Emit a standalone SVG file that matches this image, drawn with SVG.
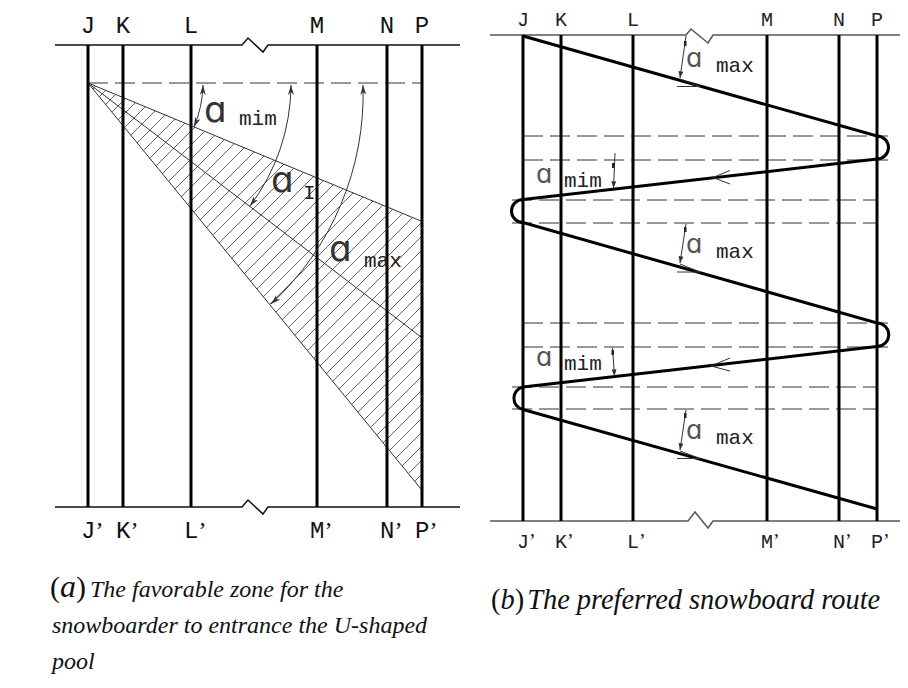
<svg xmlns="http://www.w3.org/2000/svg" width="908" height="688" viewBox="0 0 908 688">
<style>
.bg{fill:#fff}
.edge{fill:none;stroke:#111;stroke-width:1.5}
.edgeb{fill:none;stroke:#555;stroke-width:1.5}
.rail{stroke:#000;stroke-width:3}
.dash{stroke:#333;stroke-width:1;stroke-dasharray:20 7;fill:none}
.thin{stroke:#333;stroke-width:1;fill:none}
.route{stroke:#000;stroke-width:3;fill:none}
.lblA{font-family:"Liberation Mono",monospace;font-size:24px;fill:#111}
.lblB{font-family:"Liberation Mono",monospace;font-size:20px;fill:#222}
.pr{font-family:"Liberation Serif",serif}
.sub{font-family:"Liberation Mono",monospace;font-size:21px;fill:#222}
.alA{font-family:"DejaVu Sans",sans-serif;font-size:36px;fill:#333}
.alB{font-family:"DejaVu Sans",sans-serif;font-size:26px;fill:#555}
.cap{font-family:"Liberation Serif",serif;font-size:24px;font-style:italic;fill:#111}
.capb{font-family:"Liberation Serif",serif;font-size:28.4px;font-style:italic;fill:#111}
.up{font-style:normal}
</style>
<defs>
<pattern id="hatch" patternUnits="userSpaceOnUse" width="14" height="14">
<path d="M-1,15 L15,-1 M-1,1 L1,-1 M13,15 L15,13" stroke="#555" stroke-width="0.9"/>
</pattern>
<marker id="arr" viewBox="0 0 10 6" refX="10" refY="3" markerWidth="10" markerHeight="6" markerUnits="userSpaceOnUse" orient="auto-start-reverse">
<path d="M0,0 L10,3 L0,6 L3,3 Z" fill="#333"/>
</marker>
<marker id="tip" viewBox="0 0 8 6" refX="8" refY="3" markerWidth="7" markerHeight="5" markerUnits="userSpaceOnUse" orient="auto">
<path d="M0,0 L8,3 L0,6 Z" fill="#333"/>
</marker>
</defs>
<rect class="bg" width="908" height="688"/>

<!-- Panel (a) -->
<g id="panel-a">
<g id="a-zone">
<polygon points="88,83 421,221 421,489" fill="url(#hatch)"/>
<path class="thin" d="M88,83 L421,221 M88,83 L421,337 M88,83 L421,489"/>
</g>
<g id="a-frame">
<path class="edge" d="M55,45 H242 L248,38 L263,52 L268,45 H460"/>
<path class="edge" d="M55,507 H242 L248,500 L263,514 L268,507 H460"/>
<path class="dash" d="M88,83 H422"/>
<g id="a-rails">
<line class="rail" x1="88" y1="45" x2="88" y2="507"/>
<line class="rail" x1="123" y1="45" x2="123" y2="507"/>
<line class="rail" x1="191" y1="45" x2="191" y2="507"/>
<line class="rail" x1="317" y1="45" x2="317" y2="507"/>
<line class="rail" x1="387" y1="45" x2="387" y2="507"/>
<line class="rail" x1="422" y1="45" x2="422" y2="507"/>
</g>
</g>
<g id="a-labels">
<text class="lblA" text-anchor="middle" x="88" y="33">J</text>
<text class="lblA" text-anchor="middle" x="123" y="33">K</text>
<text class="lblA" text-anchor="middle" x="191" y="33">L</text>
<text class="lblA" text-anchor="middle" x="317" y="33">M</text>
<text class="lblA" text-anchor="middle" x="387" y="33">N</text>
<text class="lblA" text-anchor="middle" x="422" y="33">P</text>
<text class="lblA" x="81" y="538">J<tspan class="pr">’</tspan></text>
<text class="lblA" x="116" y="538">K<tspan class="pr">’</tspan></text>
<text class="lblA" x="184" y="538">L<tspan class="pr">’</tspan></text>
<text class="lblA" x="310" y="538">M<tspan class="pr">’</tspan></text>
<text class="lblA" x="380" y="538">N<tspan class="pr">’</tspan></text>
<text class="lblA" x="415" y="538">P<tspan class="pr">’</tspan></text>
</g>
<g id="a-angles">
<path class="thin" d="M203,85 A115,115 0 0 1 194,127" marker-start="url(#arr)" marker-end="url(#arr)"/>
<path class="thin" d="M291,85 A203,203 0 0 1 250,206" marker-start="url(#arr)" marker-end="url(#arr)"/>
<path class="thin" d="M363,85 A285,285 0 0 1 271,304" marker-start="url(#arr)" marker-end="url(#arr)"/>
<text class="alA" x="204" y="122">ɑ</text>
<text class="sub" x="239" y="125">mim</text>
<text class="alA" x="271" y="192">ɑ</text>
<text class="sub" x="303" y="199">I</text>
<text class="alA" x="329" y="261">ɑ</text>
<text class="sub" x="364" y="267">max</text>
</g>
</g>

<!-- Panel (b) -->
<g id="panel-b">
<g id="b-frame">
<path class="edgeb" d="M490,35 H686 L691,29 L708,43 L713,35 H900"/>
<path class="edgeb" d="M490,521 H688 L695,512 L708,528 L713,521 H900"/>
<path class="dash" d="M523,136 H888 M523,160 H888 M512,200 H877 M512,223 H877 M523,323 H888 M523,347 H888 M512,387 H877 M512,409 H877"/>
<g id="b-rails">
<line class="rail" x1="523" y1="35" x2="523" y2="521"/>
<line class="rail" x1="561" y1="35" x2="561" y2="521"/>
<line class="rail" x1="633" y1="35" x2="633" y2="521"/>
<line class="rail" x1="767" y1="35" x2="767" y2="521"/>
<line class="rail" x1="839" y1="35" x2="839" y2="521"/>
<line class="rail" x1="877" y1="35" x2="877" y2="521"/>
</g>
</g>
<g id="b-route">
<path class="route" d="M523,36 L877,136 A11.5,11.5 0 0 1 877,159 L523,199.5 A11.5,11.5 0 0 0 523,222.5 L877,323 A11.5,11.5 0 0 1 877,346.5 L523,387 A11.5,11.5 0 0 0 523,409.5 L877,509"/>
<path class="thin" d="M730,170.5 L713,177.5 L730,184 M730,358 L711,366 L730,371"/>
</g>
<g id="b-labels">
<text class="lblB" text-anchor="middle" x="523" y="26">J</text>
<text class="lblB" text-anchor="middle" x="561" y="26">K</text>
<text class="lblB" text-anchor="middle" x="633" y="26">L</text>
<text class="lblB" text-anchor="middle" x="767" y="26">M</text>
<text class="lblB" text-anchor="middle" x="839" y="26">N</text>
<text class="lblB" text-anchor="middle" x="877" y="26">P</text>
<text class="lblB" x="517" y="548">J<tspan class="pr">’</tspan></text>
<text class="lblB" x="555" y="548">K<tspan class="pr">’</tspan></text>
<text class="lblB" x="627" y="548">L<tspan class="pr">’</tspan></text>
<text class="lblB" x="761" y="548">M<tspan class="pr">’</tspan></text>
<text class="lblB" x="833" y="548">N<tspan class="pr">’</tspan></text>
<text class="lblB" x="871" y="548">P<tspan class="pr">’</tspan></text>
</g>
<g id="b-angles">
<g class="thin">
<path d="M686,36 L680,78" marker-end="url(#tip)"/>
<path d="M677,86.5 L700,86.5 M680,79 L700,86.5"/>
<path d="M686,224 L680,263" marker-end="url(#tip)"/>
<path d="M677,272 L700,272 M680,264 L700,272"/>
<path d="M686,410 L680,450" marker-end="url(#tip)"/>
<path d="M677,458.5 L700,458.5 M680,451 L700,458.5"/>
<path d="M615,153 L613.5,188" marker-end="url(#tip)"/>
<path d="M612.5,348 L614.5,376" marker-end="url(#tip)"/>
</g>
<g fill="#222">
<rect x="684" y="41" width="2.5" height="5"/>
<rect x="684" y="227" width="2.5" height="5"/>
<rect x="684" y="413" width="2.5" height="5"/>
<rect x="612" y="163" width="2.5" height="5"/>
<rect x="611.5" y="350" width="2.5" height="5"/>
</g>
<text class="alB" x="686" y="67">ɑ</text>
<text class="sub" x="716" y="72">max</text>
<text class="alB" x="686" y="253">ɑ</text>
<text class="sub" x="716" y="258">max</text>
<text class="alB" x="686" y="439">ɑ</text>
<text class="sub" x="716" y="444">max</text>
<text class="alB" x="536" y="183">ɑ</text>
<text class="sub" x="564" y="187">mim</text>
<text class="alB" x="536" y="366">ɑ</text>
<text class="sub" x="564" y="370">mim</text>
</g>
</g>

<!-- Captions -->
<g id="captions">
<text class="cap" x="50" y="597"><tspan class="up" font-size="30">(</tspan><tspan font-size="32">a</tspan><tspan class="up" font-size="30">)</tspan><tspan dx="4">The favorable zone for the</tspan></text>
<text class="cap" x="52" y="633">snowboarder to entrance the U-shaped</text>
<text class="cap" x="52" y="669">pool</text>
<text class="capb" x="491" y="609"><tspan class="up">(</tspan>b<tspan class="up">)</tspan><tspan dx="3">The preferred snowboard route</tspan></text>
</g>
</svg>
